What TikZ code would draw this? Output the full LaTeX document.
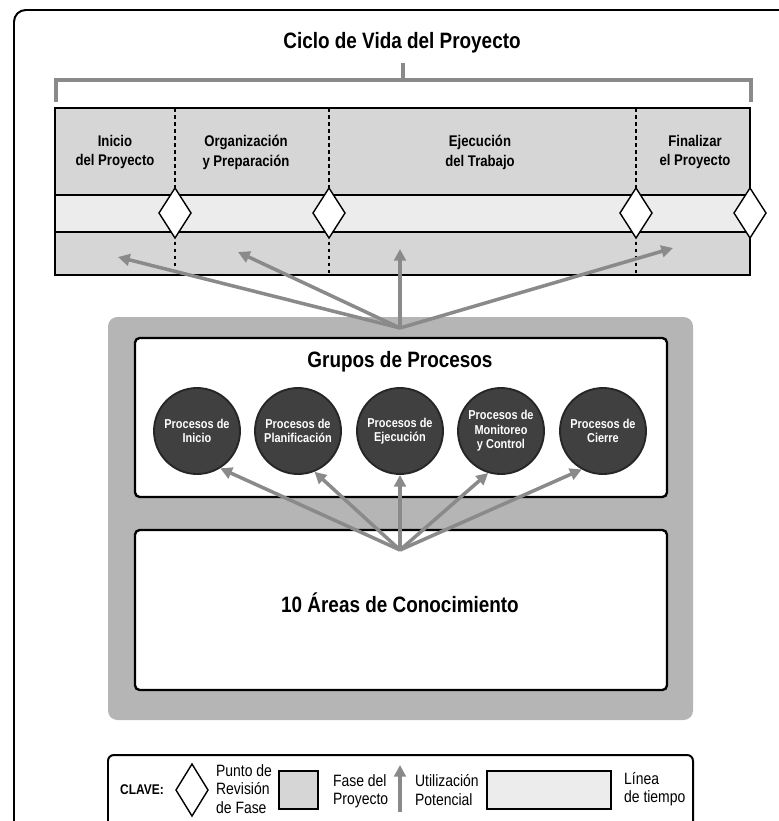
\documentclass[tikz,border=0pt]{standalone}
\usepackage{fontspec}
\setmainfont{Liberation Sans}[FakeStretch=0.85]
\usetikzlibrary{arrows.meta}

\definecolor{phasegray}{HTML}{D6D6D6}
\definecolor{timegray}{HTML}{ECECEC}
\definecolor{boxgray}{HTML}{B5B5B5}
\definecolor{usegray}{HTML}{8A8A8A}
\definecolor{procgray}{HTML}{404040}

\begin{document}
\begin{tikzpicture}[x=0.3mm, y=-0.3mm,
	usage/.style={draw=usegray, line width=3pt, -{Triangle[length=10pt,width=10pt]}, usegray},
	phaselabel/.style={font=\fontsize{13.2}{17}\selectfont\bfseries, align=center},
	process/.style={circle, fill=procgray, draw=black!85, line width=1.6pt, minimum size=25.8mm, inner sep=0pt, text=white, align=center, font=\fontsize{11}{12.5}\selectfont\bfseries},
	keytext/.style={font=\fontsize{14}{15.5}\selectfont, align=left, anchor=west},
	bigtitle/.style={font=\fontsize{19}{22}\selectfont\bfseries},
	whitebox/.style={fill=white, draw=black, line width=2pt, rounded corners=4pt}]
	\useasboundingbox (0,0) rectangle (779,821);
		%Frame
			\draw[line width=1.7pt, rounded corners=10pt] (14,10) rectangle (820,860);
		%Life cycle
			%title + bracket
				\node[bigtitle] (cycle) at (402,43) {Ciclo de Vida del Proyecto};
				\draw[usegray, line width=3.5pt] (56,102) -- (56,80) -- (751,80) -- (751,102);
				\draw[usegray, line width=3.5pt] (403,63) -- (403,80);
			%rows
				\fill[phasegray] (55,108) rectangle (750,195);
				\fill[timegray] (55,195) rectangle (750,232);
				\fill[phasegray] (55,232) rectangle (750,275);
				\draw[line width=1.3pt] (55,108) rectangle (750,275);
				\draw[line width=1.6pt] (55,195) -- (750,195);
				\draw[line width=1.6pt] (55,232) -- (750,232);
			%phase borders
				\foreach \x in {175,329,636}
					\draw[dashed, line width=1pt] (\x,108) -- (\x,275);
			%phase review points
				\foreach \x in {175,329,636,750}
					\draw[fill=white, line width=1.2pt] (\x,188) -- (\x+16,213) -- (\x,238) -- (\x-16,213) -- cycle;
			%phase labels
				\node[phaselabel] (inicio) at (115,152) {Inicio\\del Proyecto};
				\node[phaselabel] (organiz) at (246,152) {Organización\\y Preparación};
				\node[phaselabel] (ejec) at (480,152) {Ejecución\\del Trabajo};
				\node[phaselabel] (final) at (695,152) {Finalizar\\el Proyecto};
		%Process groups
			%gray frame + boxes
				\fill[boxgray, rounded corners=8pt] (108,317) rectangle (693,720);
				\draw[whitebox] (135,338) rectangle (667,497);
				\draw[whitebox] (135,530) rectangle (667,690);
			%titles
				\node[bigtitle] (groups) at (400,362) {Grupos de Procesos};
				\node[bigtitle] (areas) at (400,603) {10 Áreas de Conocimiento};
			%process circles
				\node[process] (p1) at (197,431) {Procesos de\\Inicio};
				\node[process] (p2) at (298,431) {Procesos de\\Planificación};
				\node[process] (p3) at (400,431) {Procesos de\\Ejecución};
				\node[process] (p4) at (501,431) {Procesos de\\Monitoreo\\y Control};
				\node[process] (p5) at (603,431) {Procesos de\\Cierre};
		%Potential use arrows
			%up to the phases
				\coordinate (upper) at (400,328);
				\coordinate (t1) at (118,257);
				\coordinate (t2) at (238,252);
				\coordinate (t3) at (400,249);
				\coordinate (t4) at (673,248);
				\foreach \t in {t1,t2,t3,t4}
					\draw[usage] (upper) -- (\t);
			%up to the process groups
				\coordinate (lower) at (400,550);
				\draw[usage] (lower) -- (p1.-58);
				\draw[usage] (lower) -- (p2.-68);
				\draw[usage] (lower) -- (p3.-90);
				\draw[usage] (lower) -- (p4.-107);
				\draw[usage] (lower) -- (p5.-119);
		%Key
			\draw[line width=1.7pt, rounded corners=5pt] (108,755) rectangle (693,860);
			\node[font=\fontsize{12}{14}\selectfont\bfseries, anchor=west] (clave) at (116,790) {CLAVE:};
			%review point
				\draw[fill=white, line width=1.2pt] (192,764) -- (208,790) -- (192,816) -- (176,790) -- cycle;
				\node[keytext] (kreview) at (212,789) {Punto de\\Revisión\\de Fase};
			%phase
				\draw[fill=phasegray, line width=1.4pt] (279,771) rectangle (318,809);
				\node[keytext] (kphase) at (329,791) {Fase del\\Proyecto};
			%usage
				\coordinate (ka) at (400,812);
				\coordinate (kb) at (400,765);
				\draw[usage, line width=4pt] (ka) -- (kb);
				\node[keytext] (kusage) at (411,790) {Utilización\\Potencial};
			%timeline
				\draw[fill=timegray, line width=1.4pt] (487,771) rectangle (611,809);
				\node[keytext] (ktime) at (620,789) {Línea\\de tiempo};
\end{tikzpicture}
\end{document}
